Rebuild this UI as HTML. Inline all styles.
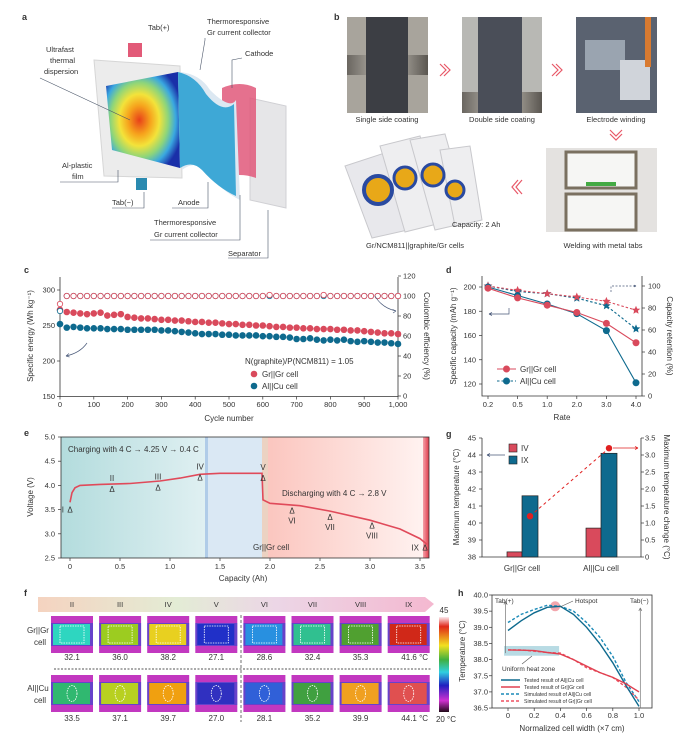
<!DOCTYPE html>
<html><head><meta charset="utf-8">
<style>
html,body{margin:0;padding:0;background:#fff;}
svg{display:block;font-family:"Liberation Sans",sans-serif;}
text{fill:#333;}
</style></head>
<body>
<svg id="fig" xmlns="http://www.w3.org/2000/svg" width="686" height="740" viewBox="0 0 686 740">
<defs>
<radialGradient id="heat" cx="0.45" cy="0.5" r="0.6">
<stop offset="0" stop-color="#e8401a"/><stop offset="0.25" stop-color="#f6a21c"/><stop offset="0.45" stop-color="#f3e33a"/><stop offset="0.65" stop-color="#8ed57a"/><stop offset="0.82" stop-color="#3aa8e0"/><stop offset="1" stop-color="#1a2fa8"/>
</radialGradient>
<linearGradient id="teal" x1="0" x2="1"><stop offset="0" stop-color="#b3dcdd"/><stop offset="1" stop-color="#e0f0f2"/></linearGradient>
<linearGradient id="pinkbg" x1="0" x2="1"><stop offset="0" stop-color="#fbc6bf"/><stop offset="1" stop-color="#fff2f0"/></linearGradient>
<linearGradient id="redbar" x1="0" x2="1"><stop offset="0" stop-color="#f4a0a8"/><stop offset="1" stop-color="#e03a4a"/></linearGradient>
<linearGradient id="banner" x1="0" x2="1"><stop offset="0" stop-color="#f5d3c0"/><stop offset="0.35" stop-color="#e3ecd5"/><stop offset="0.6" stop-color="#ecd6e6"/><stop offset="1" stop-color="#f4b8d0"/></linearGradient>
<linearGradient id="cbar" x1="0" x2="0" y1="0" y2="1"><stop offset="0" stop-color="#fbe8ee"/><stop offset="0.1" stop-color="#e02818"/><stop offset="0.3" stop-color="#f2e020"/><stop offset="0.45" stop-color="#40b040"/><stop offset="0.58" stop-color="#30d0e0"/><stop offset="0.72" stop-color="#2020c0"/><stop offset="0.88" stop-color="#d030d0"/><stop offset="1" stop-color="#200818"/></linearGradient>
<linearGradient id="roller" x1="0" x2="1"><stop offset="0" stop-color="#6a6660"/><stop offset="0.5" stop-color="#c8c4bc"/><stop offset="1" stop-color="#5a5650"/></linearGradient>
</defs>

<!-- Panel a -->
<g>
<text x="22" y="20" font-size="9" font-weight="bold" fill="#000">a</text>
<rect x="128" y="43" width="14" height="14" fill="#e25a78"/>
<rect x="136" y="178" width="11" height="12" fill="#2a8ab0"/>
<polygon points="94,60 180,66 182,178 104,176" fill="#ececec" stroke="#d6d6d6"/>
<polygon points="106,86 178,72 180,168 112,150" fill="url(#heat)"/>
<path d="M250,98 L286,106 L286,208 L250,200 Z" fill="#e6e6e8" stroke="#d0d0d4"/>
<path d="M222,88 Q240,80 256,88 L256,178 Q240,172 222,178 Z" fill="#e0587a" opacity="0.85"/>
<path d="M180,72 Q200,74 210,90 Q230,110 236,100 L240,200 Q220,190 205,170 Q195,160 182,170 Z" fill="#dce8f2"/>
<path d="M178,72 Q196,76 206,94 Q222,114 234,104 L236,196 Q218,188 202,170 Q192,160 180,168 Z" fill="#3ea8d6"/>
<g font-size="7.5" fill="#333">
<text x="148" y="30">Tab(+)</text>
<text x="207" y="24">Thermoresponsive</text>
<text x="207" y="35">Gr current collector</text>
<text x="245" y="56">Cathode</text>
<text x="46" y="52">Ultrafast</text>
<text x="50" y="63">thermal</text>
<text x="44" y="74">dispersion</text>
<text x="62" y="168">Al-plastic</text>
<text x="72" y="179">film</text>
<text x="112" y="205">Tab(−)</text>
<text x="178" y="205">Anode</text>
<text x="154" y="225">Thermoresponsive</text>
<text x="154" y="237">Gr current collector</text>
<text x="228" y="256">Separator</text>
</g>
<g stroke="#4a5568" stroke-width="0.6" fill="none">
<path d="M40,78 L130,120"/><path d="M205,38 L205,40 L200,70"/><path d="M242,58 L232,60 L232,88"/><path d="M60,182 L118,182 L118,170"/>
<path d="M112,208 L144,208 L144,192"/><path d="M172,208 L208,208 L208,182"/><path d="M150,240 L240,240 L240,195"/><path d="M228,258 L268,258 L268,210"/>
</g>
</g>

<!-- Panel b -->
<g>
<text x="334" y="20" font-size="9" font-weight="bold" fill="#000">b</text>
<rect x="347" y="17" width="81" height="96" fill="#a8a49c"/>
<rect x="347" y="55" width="81" height="20" fill="url(#roller)"/>
<rect x="366" y="17" width="42" height="96" fill="#3c3e44"/>
<rect x="462" y="17" width="80" height="96" fill="#b8b8b4"/>
<rect x="462" y="92" width="80" height="21" fill="url(#roller)"/>
<rect x="478" y="17" width="44" height="96" fill="#4a4e58"/>
<rect x="576" y="17" width="81" height="96" fill="#5a6270"/>
<rect x="585" y="40" width="40" height="30" fill="#9aa4b0"/><rect x="620" y="60" width="30" height="40" fill="#d0d4da"/><rect x="645" y="17" width="6" height="50" fill="#d87a30"/>
<g font-size="7.5">
<text x="387" y="122" text-anchor="middle">Single side coating</text>
<text x="502" y="122" text-anchor="middle">Double side coating</text>
<text x="616" y="122" text-anchor="middle">Electrode winding</text>
<text x="603" y="248" text-anchor="middle">Welding with metal tabs</text>
<text x="415" y="248" text-anchor="middle">Gr/NCM811||graphite/Gr cells</text>
</g>
<g fill="none" stroke="#e85868" stroke-width="1.2">
<path d="M440,64 L446,70 L440,76 M444,64 L450,70 L444,76"/>
<path d="M552,64 L558,70 L552,76 M556,64 L562,70 L556,76"/>
<path d="M610,130 L616,136 L622,130 M610,134 L616,140 L622,134"/>
<path d="M518,180 L512,187 L518,194 M522,180 L516,187 L522,194"/>
</g>
<rect x="546" y="148" width="111" height="84" fill="#e4e2e0"/>
<rect x="566" y="152" width="70" height="36" fill="#f6f6f4" stroke="#7a7060" stroke-width="3"/>
<rect x="566" y="194" width="70" height="36" fill="#f6f6f4" stroke="#7a7060" stroke-width="3"/>
<rect x="586" y="182" width="30" height="4" fill="#44aa44"/>
<g>
<polygon points="345,166 400,148 430,225 372,238" fill="#e8e8ec" stroke="#c8c8cc"/>
<polygon points="380,146 420,136 445,222 405,232" fill="#eeeef0" stroke="#c8c8cc"/>
<polygon points="410,140 445,134 470,222 435,230" fill="#eeeef0" stroke="#c8c8cc"/>
<polygon points="440,150 470,146 482,220 455,226" fill="#eeeef0" stroke="#c8c8cc"/>
<circle cx="378" cy="190" r="14" fill="#e8a818" stroke="#2a4aa0" stroke-width="4"/>
<circle cx="405" cy="178" r="11" fill="#e8a818" stroke="#2a4aa0" stroke-width="3"/>
<circle cx="433" cy="175" r="11" fill="#e8a818" stroke="#2a4aa0" stroke-width="3"/>
<circle cx="455" cy="190" r="9" fill="#e8a818" stroke="#2a4aa0" stroke-width="3"/>
</g>
<text x="452" y="227" font-size="7.5">Capacity: 2 Ah</text>
</g>

<!-- Panel e backgrounds -->
<g>
<rect x="61" y="437" width="145" height="121" fill="url(#teal)"/>
<rect x="206" y="437" width="56" height="121" fill="#dae8f4"/>
<rect x="205" y="437" width="3" height="121" fill="#b0cce8"/>
<rect x="262" y="437" width="6" height="121" fill="#ecd2c2"/>
<rect x="268" y="437" width="155" height="121" fill="url(#pinkbg)"/>
<rect x="423" y="437" width="6" height="121" fill="url(#redbar)"/>
</g>

<!-- Panel f static -->
<g>
<polygon points="38,597 425,597 434,604 425,612 38,612" fill="url(#banner)"/>
<line x1="54" y1="669" x2="432" y2="669" stroke="#555" stroke-width="1" stroke-dasharray="2,1.5"/>
<line x1="241" y1="615" x2="241" y2="722" stroke="#333" stroke-width="0.7" stroke-dasharray="3,2"/>
<text x="38" y="633" font-size="8" text-anchor="middle">Gr||Gr</text>
<text x="40" y="645" font-size="8" text-anchor="middle">cell</text>
<text x="38" y="691" font-size="8" text-anchor="middle">Al||Cu</text>
<text x="40" y="703" font-size="8" text-anchor="middle">cell</text>
<rect x="439" y="617" width="10" height="95" fill="url(#cbar)"/>
<text x="444" y="613" font-size="8" text-anchor="middle">45</text>
<text x="446" y="722" font-size="8" text-anchor="middle">20 °C</text>
</g>

<!-- static axis titles etc -->
<g font-size="8">
<text x="24" y="273" font-size="9" font-weight="bold" fill="#000">c</text>
<text x="446" y="273" font-size="9" font-weight="bold" fill="#000">d</text>
<text x="24" y="436" font-size="9" font-weight="bold" fill="#000">e</text>
<text x="446" y="437" font-size="9" font-weight="bold" fill="#000">g</text>
<text x="24" y="596" font-size="9" font-weight="bold" fill="#000">f</text>
<text x="458" y="596" font-size="9" font-weight="bold" fill="#000">h</text>
<text transform="translate(33,336) rotate(-90)" text-anchor="middle">Specific energy (Wh kg⁻¹)</text>
<text x="229" y="421" text-anchor="middle">Cycle number</text>
<text transform="translate(424,336) rotate(90)" text-anchor="middle">Coulombic efficiency (%)</text>
<text transform="translate(456,336) rotate(-90)" text-anchor="middle">Specific capacity (mAh g⁻¹)</text>
<text x="562" y="420" text-anchor="middle">Rate</text>
<text transform="translate(667,336) rotate(90)" text-anchor="middle">Capacity retention (%)</text>
<text transform="translate(33,497) rotate(-90)" text-anchor="middle">Voltage (V)</text>
<text x="243" y="581" text-anchor="middle">Capacity (Ah)</text>
<text transform="translate(459,497) rotate(-90)" text-anchor="middle">Maximum temperature (°C)</text>
<text transform="translate(664,497) rotate(90)" text-anchor="middle">Maximum temperature change (°C)</text>
<text transform="translate(465,651) rotate(-90)" text-anchor="middle">Temperature (°C)</text>
<text x="572" y="731" text-anchor="middle">Normalized cell width (×7 cm)</text>
</g>
<g id="dyn"></g>
</svg>
<script>
// ---------- data ----------
const cCycles = [0,20,40,60,80,100,120,140,160,180,200,220,240,260,280,300,320,340,360,380,400,420,440,460,480,500,520,540,560,580,600,620,640,660,680,700,720,740,760,780,800,820,840,860,880,900,920,940,960,980,1000];
const cGrEnergy = [272,269,268,267,266,267,268,264,265,266, 262,261,260,260,259,258,258,257,257,256, 255,255,254,254,253,252,252,251,251,250, 250,249,248,248,247,247,246,246,245,245, 245,244,244,243,243,242,241,240,239,239, 238];
const cAlEnergy = [252,247,248,247,246,246,246,245,245,245, 244,244,244,244,244,243,243,242,241,240, 239,238,238,238,237,237,236,236,236,236, 235,235,234,234,233,231,231,232,230,229, 230,229,230,228,227,228,227,226,226,225, 224];
const cGrCE = [92,100,100,100,100,100,100,100,100,100, 100,100,100,100,100,100,100,100,100,100, 100,100,100,100,100,100,100,100,100,100, 100,101,100,100,100,100,100,100,100,101, 100,100,100,100,100,100,100,100,100,100, 100];
const cAlCE = [85,100,100,100,100,100,100,100,100,100, 100,100,100,100,100,100,100,100,100,100, 100,100,100,100,100,100,100,100,100,100, 100,100,100,100,100,100,100,100,100,100, 100,100,100,100,100,100,100,100,100,100, 100];
const cYTicks = [150,200,250,300];
const cY2Ticks = [0,20,40,60,80,100,120];
const cXTicks = [0,100,200,300,400,500,600,700,800,900,1000];
const cXTickLabels = ['0','100','200','300','400','500','600','700','800','900','1,000'];

const dRates = ['0.2','0.5','1.0','2.0','3.0','4.0'];
const dGrCap = [199,191,185,179,170,154];
const dAlCap = [200,193,186,178,164,121];
const dGrRet = [100,96,93,90,86,78];
const dAlRet = [100,95,93,89,82,61];
const dYTicks = [120,140,160,180,200];
const dY2Ticks = [0,20,40,60,80,100];

const eCap = [0,0.02,0.05,0.1,0.3,0.6,0.9,1.1,1.3,1.5,1.92,1.93,2.0,2.3,2.6,3.0,3.3,3.5,3.57];
const eVolt = [3.65,3.85,3.95,4.0,4.02,4.04,4.09,4.15,4.23,4.25,4.25,3.7,3.63,3.58,3.47,3.28,3.1,2.9,2.78];
const eMarkNames = ['I','II','III','IV','V','VI','VII','VIII','IX'];
const eMarkCap = [0.0,0.42,0.88,1.3,1.93,2.22,2.6,3.02,3.55];
const eMarkVolt = [3.5,3.93,3.96,4.16,4.15,3.48,3.35,3.17,2.72];
const eYTicks = [2.5,3.0,3.5,4.0,4.5,5.0];
const eXTicks = [0,0.5,1.0,1.5,2.0,2.5,3.0,3.5];

const gCats = ['Gr||Gr cell','Al||Cu cell'];
const gIV = [38.3,39.7];
const gIX = [41.6,44.1];
const gChange = [1.2,3.2];
const gYTicks = [38,39,40,41,42,43,44,45];
const gY2Ticks = [0,0.5,1.0,1.5,2.0,2.5,3.0,3.5];

const fStages = ['II','III','IV','V','VI','VII','VIII','IX'];
const fGrTemps = ['32.1','36.0','38.2','27.1','28.6','32.4','35.3','41.6 °C'];
const fAlTemps = ['33.5','37.1','39.7','27.0','28.1','35.2','39.9','44.1 °C'];
const fGrColors = ['#2ed6c0','#9ccc20','#e8d020','#2030c8','#2890e0','#30c090','#50a030','#d02818'];
const fAlColors = ['#30b870','#b8d020','#f0a010','#3030c0','#3060d8','#40a040','#f0a020','#e05050'];

const hX = [0,0.1,0.2,0.3,0.4,0.5,0.6,0.7,0.8,0.9,1.0];
const hAlTested = [38.9,39.2,39.45,39.62,39.65,39.4,39.0,38.5,37.9,37.2,36.55];
const hAlSim = [39.15,39.4,39.55,39.68,39.65,39.5,39.15,38.7,38.1,37.3,36.7];
const hGrTested = [38.3,38.29,38.28,38.22,38.17,38.0,37.8,37.6,37.45,37.25,37.0];
const hGrSim = [38.3,38.3,38.26,38.22,38.2,38.0,37.75,37.6,37.45,37.15,36.75];
const hYTicks = [36.5,37.0,37.5,38.0,38.5,39.0,39.5,40.0];
const hXTicks = [0,0.2,0.4,0.6,0.8,1.0];

// ---------- helpers ----------
const NS='http://www.w3.org/2000/svg';
const root=document.getElementById('dyn');
function el(tag,attrs){const e=document.createElementNS(NS,tag);for(const k in attrs)e.setAttribute(k,attrs[k]);root.appendChild(e);return e;}
function tx(x,y,s,size,anchor,fill){const t=el('text',{x:x,y:y,'font-size':size||7.5,'text-anchor':anchor||'start',fill:fill||'#333'});t.textContent=s;return t;}
function poly(xs,ys,stroke,dash,w){return el('polyline',{points:xs.map((x,i)=>x.toFixed(1)+','+ys[i].toFixed(1)).join(' '),fill:'none',stroke:stroke,'stroke-width':w||1.1,'stroke-dasharray':dash||'none'});}
function tickL(x,y,len){return el('line',{x1:x-len,x2:x,y1:y,y2:y,stroke:'#333','stroke-width':0.7});}
const RED='#d94a5c', BLUE='#0e6a8e';
let a;

// ---------- panel c ----------
const cx=v=>60+v*0.338, cy=v=>396.5-(v-150)*0.71, cy2=v=>396-v*1.0;
a=el('path',{d:'M60,277 L60,396.5 L398,396.5 L398,277',fill:'none',stroke:'#333','stroke-width':0.8});


cYTicks.forEach(v=>{const t=tx(55,cy(v)+2.5,String(v),7.5,'end');


tickL(60,cy(v),3);});
cY2Ticks.forEach(v=>{const t=tx(403,cy2(v)+2.5,String(v),7.5,'start');


tickL(401,cy2(v),3);});
cXTicks.forEach((v,i)=>{const t=tx(cx(v),407,cXTickLabels[i],7.5,'middle');


el('line',{x1:cx(v),x2:cx(v),y1:396.5,y2:399.5,stroke:'#333','stroke-width':0.7});});
cCycles.forEach((c,i)=>{const p=el('circle',{cx:cx(c),cy:cy(cAlEnergy[i]),r:3.3,fill:BLUE});

});
cCycles.forEach((c,i)=>{const p=el('circle',{cx:cx(c),cy:cy(cGrEnergy[i]),r:3.3,fill:RED});

});
cCycles.forEach((c,i)=>{const p=el('circle',{cx:cx(c),cy:cy2(cAlCE[i]),r:2.7,fill:'#fff',stroke:BLUE,'stroke-width':0.8});

});
cCycles.forEach((c,i)=>{const p=el('circle',{cx:cx(c),cy:cy2(cGrCE[i]),r:2.7,fill:'#fff',stroke:RED,'stroke-width':0.8});

});
a=tx(245,364,'N(graphite)/P(NCM811) = 1.05',8);


a=el('circle',{cx:254,cy:374,r:3.3,fill:RED});


a=tx(262,377,'Gr||Gr cell',8);


a=el('circle',{cx:254,cy:386,r:3.3,fill:BLUE});


a=tx(262,389,'Al||Cu cell',8);


a=el('path',{d:'M87,343 Q80,353 66,356 M66,356 l3,-2.5 M66,356 l3.5,1',fill:'none',stroke:'#4a5a7a','stroke-width':0.7});


a=el('path',{d:'M375,296 Q382,308 396,311 M396,311 l-3.5,-1.5 M396,311 l-3,2',fill:'none',stroke:'#4a5a7a','stroke-width':0.7});



// ---------- panel d ----------
const dx=i=>488+i*29.6, dy=v=>287+(200-v)*1.2125, dy2=v=>396-v*1.1;
a=el('path',{d:'M482,276 L482,396 L642,396 L642,276',fill:'none',stroke:'#333','stroke-width':0.8});


dYTicks.forEach(v=>{const t=tx(476,dy(v)+2.5,String(v),7.5,'end');


tickL(482,dy(v),3);});
dY2Ticks.forEach(v=>{const t=tx(648,dy2(v)+2.5,String(v),7.5,'start');


tickL(645,dy2(v),3);});
dRates.forEach((r,i)=>{const t=tx(dx(i),407,r,7.5,'middle');


el('line',{x1:dx(i),x2:dx(i),y1:396,y2:399,stroke:'#333','stroke-width':0.7});});
const dXs=dRates.map((r,i)=>dx(i));
a=poly(dXs,dAlRet.map(dy2),BLUE,'2.5,2');


a=poly(dXs,dGrRet.map(dy2),RED,'2.5,2');


a=poly(dXs,dAlCap.map(dy),BLUE);


a=poly(dXs,dGrCap.map(dy),RED);


function star(x,y,r,fill){let p=[];for(let k=0;k<10;k++){const rr=k%2?r*0.45:r;const an=-Math.PI/2+k*Math.PI/5;p.push((x+rr*Math.cos(an)).toFixed(1)+','+(y+rr*Math.sin(an)).toFixed(1));}return el('polygon',{points:p.join(' '),fill:fill});}
dRates.forEach((r,i)=>{let s=star(dx(i),dy2(dAlRet[i]),4.5,BLUE);


s=star(dx(i),dy2(dGrRet[i]),4.5,RED);


let c=el('circle',{cx:dx(i),cy:dy(dAlCap[i]),r:3.5,fill:BLUE});


c=el('circle',{cx:dx(i),cy:dy(dGrCap[i]),r:3.5,fill:RED});

});
a=el('line',{x1:497,x2:516,y1:369,y2:369,stroke:RED,'stroke-width':1.1});


a=el('circle',{cx:506.5,cy:369,r:3.5,fill:RED});


a=tx(520,372,'Gr||Gr cell',8);


a=el('line',{x1:497,x2:516,y1:381,y2:381,stroke:BLUE,'stroke-width':1.1,'stroke-dasharray':'2.5,2'});


a=el('circle',{cx:506.5,cy:381,r:3.5,fill:BLUE});


a=tx(520,384,'Al||Cu cell',8);


a=el('path',{d:'M509,308 L509,314 L489,314 M489,314 l3,-1.5 M489,314 l3,1.5',fill:'none',stroke:'#4a5a7a','stroke-width':0.7});


a=el('path',{d:'M611,292 L611,286 L636,286 M636,286 l-3,-1.5 M636,286 l-3,1.5',fill:'none',stroke:'#4a5a7a','stroke-width':0.7,'stroke-dasharray':'2,1.5'});



// ---------- panel e ----------
const ex=v=>70+v*100, ey=v=>437+(5-v)*48.4;
a=el('rect',{x:61,y:437,width:368,height:121,fill:'none',stroke:'#333','stroke-width':0.8});


eYTicks.forEach(v=>{const t=tx(55,ey(v)+2.5,v.toFixed(1),7.5,'end');


tickL(61,ey(v),3);});
eXTicks.forEach(v=>{const t=tx(ex(v),569,v===0?'0':v.toFixed(1),7.5,'middle');


el('line',{x1:ex(v),x2:ex(v),y1:558,y2:561,stroke:'#333','stroke-width':0.7});});
a=poly(eCap.map(ex),eVolt.map(ey),'#e04a5a','none',1.6);


eMarkNames.forEach((n,i)=>{const x=ex(eMarkCap[i]),y=ey(eMarkVolt[i]);
const m=tx(x,y+3,'Δ',8,'middle');


let lx=x,ly=y-8,anc='middle';
if(i===0){lx=x-6;ly=y+3;anc='end';}
else if(i>=5&&i<8){ly=y+13;}
else if(i===8){lx=x-6;ly=y+3;anc='end';}
const l=tx(lx,ly,n,8,anc);

});
a=tx(68,452,'Charging with 4 C → 4.25 V → 0.4 C',8);


a=tx(282,496,'Discharging with 4 C → 2.8 V',8);


a=tx(253,550,'Gr||Gr cell',8);



// ---------- panel g ----------
const gy=v=>557-(v-38)*17, gy2=v=>557-v*34;
const gCenters=[522,601];
a=el('path',{d:'M482,438 L482,557 L641,557 L641,438',fill:'none',stroke:'#333','stroke-width':0.8});


gYTicks.forEach(v=>{const t=tx(476,gy(v)+2.5,String(v),7.5,'end');


tickL(482,gy(v),3);});
gY2Ticks.forEach(v=>{const t=tx(645,gy2(v)+2.5,v===0?'0':v.toFixed(1),7.5,'start');


tickL(644,gy2(v),3);});
gCats.forEach((c,i)=>{const t=tx(gCenters[i],571,c,8,'middle');


let b=el('rect',{x:gCenters[i]-15,y:gy(gIV[i]),width:15,height:557-gy(gIV[i]),fill:'#d94a5c',stroke:'#222','stroke-width':0.7});


b=el('rect',{x:gCenters[i],y:gy(gIX[i]),width:16,height:557-gy(gIX[i]),fill:'#0e6a8e',stroke:'#222','stroke-width':0.7});

});
a=el('line',{x1:gCenters[0]+8,y1:gy2(gChange[0]),x2:gCenters[1]+8,y2:gy2(gChange[1]),stroke:'#e02020','stroke-width':1,'stroke-dasharray':'3,3'});


gChange.forEach((v,i)=>{const p=el('circle',{cx:gCenters[i]+8,cy:gy2(v),r:3.2,fill:'#e02020'});

});
a=el('rect',{x:509,y:444,width:8,height:8,fill:'#d94a5c',stroke:'#222','stroke-width':0.6});


a=tx(521,451,'IV',8);


a=el('rect',{x:509,y:456,width:8,height:8,fill:'#0e6a8e',stroke:'#222','stroke-width':0.6});


a=tx(521,463,'IX',8);


a=el('path',{d:'M505,455 L487,455 M487,455 l3,-1.5 M487,455 l3,1.5',fill:'none',stroke:'#4a5a7a','stroke-width':0.7});


a=el('path',{d:'M613,448 L638,448 M638,448 l-3,-1.5 M638,448 l-3,1.5',fill:'none',stroke:'#e02020','stroke-width':0.7});



// ---------- panel f ----------
const fx=i=>72+i*48.1;
fStages.forEach((s,i)=>{const x=fx(i);
const l=tx(x,607,s,7.5,'middle','#555');


[[616,fGrColors,fGrTemps,660,'gr',false],[675,fAlColors,fAlTemps,721,'al',true]].forEach(r=>{
const y=r[0];
const bg=el('rect',{x:x-21,y:y,width:42,height:37,fill:'#c238c0'});


el('rect',{x:x-21,y:y+7,width:42,height:23,fill:'#2a4ad0',opacity:0.6});
el('rect',{x:x-19,y:y+8,width:37,height:21,fill:r[1][i]});
if(r[5]) el('ellipse',{cx:x,cy:y+18.5,rx:5,ry:8,fill:'none',stroke:'#fff','stroke-width':0.8,'stroke-dasharray':'1.5,1'});
else el('rect',{x:x-12,y:y+10,width:24,height:17,fill:'none',stroke:'#fff','stroke-width':0.8,'stroke-dasharray':'1.5,1'});
const red=(i===2||i===7);
const t=tx(x+(i===7?6:0),r[3],r[2][i],8,'middle',red?'#e03a2a':'#333');

});});

// ---------- panel h ----------
const hx=v=>508+v*131, hy=v=>595+(40-v)*32.3;
a=el('rect',{x:hx(-0.03),y:hy(38.42),width:hx(0.39)-hx(-0.03),height:hy(38.12)-hy(38.42),fill:'#b8dbe4'});


a=el('rect',{x:492,y:595,width:160,height:113,fill:'none',stroke:'#333','stroke-width':0.8});


hYTicks.forEach(v=>{const t=tx(488,hy(v)+2.5,v.toFixed(1),7.5,'end');


tickL(492,hy(v),3);});
hXTicks.forEach(v=>{const t=tx(hx(v),718,v===0?'0':v.toFixed(1),7.5,'middle');


el('line',{x1:hx(v),x2:hx(v),y1:708,y2:711,stroke:'#333','stroke-width':0.7});});
a=el('circle',{cx:hx(0.36),cy:hy(39.65),r:5,fill:'#f09098',opacity:0.8});


a=poly(hX.map(hx),hAlSim.map(hy),'#1a8ab8','3,2',1.4);


a=poly(hX.map(hx),hGrSim.map(hy),'#ee5060','3,2',1.4);


a=poly(hX.map(hx),hAlTested.map(hy),BLUE,'none',1.4);


a=poly(hX.map(hx),hGrTested.map(hy),'#e04050','none',1.4);


a=el('path',{d:'M'+hx(-0.02)+','+hy(38.2)+' L'+hx(-0.02)+','+hy(39.8)+' l-1.5,3 M'+hx(-0.02)+','+hy(39.8)+' l1.5,3',fill:'none',stroke:'#777','stroke-width':0.7});


a=el('path',{d:'M'+hx(1.01)+','+hy(36.5)+' L'+hx(1.01)+','+hy(39.6)+' l-1.5,3 M'+hx(1.01)+','+hy(39.6)+' l1.5,3',fill:'none',stroke:'#777','stroke-width':0.7});


a=tx(495,603,'Tab(+)',6.5);


a=tx(630,603,'Tab(−)',6.5);


a=tx(575,603,'Hotspot',6.5);


a=el('line',{x1:573,y1:601,x2:560,y2:607,stroke:'#555','stroke-width':0.6});
a=tx(502,671,'Uniform heat zone',6.5);


a=el('line',{x1:522,y1:664,x2:532,y2:656,stroke:'#555','stroke-width':0.6});
const hLeg=[['Tested result of Al||Cu cell',BLUE,'none'],['Tested result of Gr||Gr cell','#e04050','none'],['Simulated result of Al||Cu cell','#1a8ab8','3,2'],['Simulated result of Gr||Gr cell','#ee5060','3,2']];
hLeg.forEach((l,i)=>{const y=680+i*7;
const ln=el('line',{x1:501,x2:520,y1:y,y2:y,stroke:l[1],'stroke-width':1.4,'stroke-dasharray':l[2]});


const t=tx(524,y+2,l[0],5.2);

});
</script>
</body></html>
